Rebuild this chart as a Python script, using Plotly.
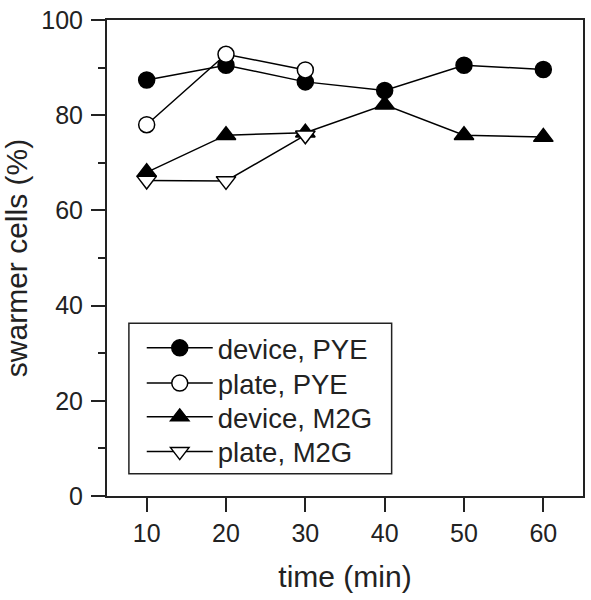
import plotly.graph_objects as go

time_min = [10, 20, 30, 40, 50, 60]
device_pye = [87.4, 90.5, 87.0, 85.2, 90.5, 89.6]
plate_pye_time = [10, 20, 30]
plate_pye = [78.0, 92.8, 89.5]
device_m2g = [68.0, 75.8, 76.3, 82.2, 75.8, 75.4]
plate_m2g_time = [10, 20, 30]
plate_m2g = [66.3, 66.2, 75.8]

FONT = "Liberation Sans, Arial, sans-serif"
INK = "#222"

fig = go.Figure()
line = dict(color="black", width=1.5)
fig.add_trace(go.Scatter(x=time_min, y=device_pye, name="device, PYE", mode="lines+markers",
                         line=line, legend="legend",
                         marker=dict(symbol="circle", size=16, color="black",
                                     line=dict(color="black", width=1.5))))
fig.add_trace(go.Scatter(x=plate_pye_time, y=plate_pye, name="plate, PYE", mode="lines+markers",
                         line=line, legend="legend2",
                         marker=dict(symbol="circle", size=16, color="white",
                                     line=dict(color="black", width=1.5))))
fig.add_trace(go.Scatter(x=time_min, y=device_m2g, name="device, M2G", mode="lines+markers",
                         line=line, legend="legend3",
                         marker=dict(symbol="triangle-up", size=17, color="black",
                                     line=dict(color="black", width=1.5))))
fig.add_trace(go.Scatter(x=plate_m2g_time, y=plate_m2g, name="plate, M2G", mode="lines+markers",
                         line=line, legend="legend4",
                         marker=dict(symbol="triangle-down", size=17, color="white",
                                     line=dict(color="black", width=1.5))))

def leg(yc):
    return dict(x=0.073, y=yc, xanchor="left", yanchor="middle",
                borderwidth=0, bgcolor="rgba(0,0,0,0)",
                font=dict(size=27.5, family=FONT, color=INK), itemwidth=66)

fig.update_layout(
    width=591, height=600,
    margin=dict(l=107, r=6, t=19, b=104),
    paper_bgcolor="white", plot_bgcolor="white",
    font=dict(family=FONT, size=25, color=INK),
    showlegend=True,
    legend=leg(0.311), legend2=leg(0.237), legend3=leg(0.166), legend4=leg(0.093),
    shapes=[dict(type="rect", xref="paper", yref="paper", x0=0.046, x1=0.598,
                 y0=0.047, y1=0.363, line=dict(color=INK, width=1.5), layer="below")],
    xaxis=dict(range=[5, 65], tickvals=[10, 20, 30, 40, 50, 60],
               showgrid=False, zeroline=False, showline=True, linecolor=INK, linewidth=2,
               mirror=True, ticks="outside", ticklen=14, tickwidth=2, tickcolor=INK,
               title=dict(text="time (min)", standoff=20)),
    yaxis=dict(range=[0, 100], tickvals=[0, 20, 40, 60, 80, 100], ticklabelstandoff=3,
               showgrid=False, zeroline=False, showline=True, linecolor=INK, linewidth=2,
               mirror=True, ticks="outside", ticklen=14, tickwidth=2, tickcolor=INK,
               minor=dict(tickvals=[10, 30, 50, 70, 90], ticks="outside", ticklen=7,
                          tickwidth=2, tickcolor=INK),
               title=dict(text="swarmer cells (%)", standoff=9)),
)

fig.write_html("out.html", config={"displayModeBar": False},
               post_script="document.body.style.margin='0';")
